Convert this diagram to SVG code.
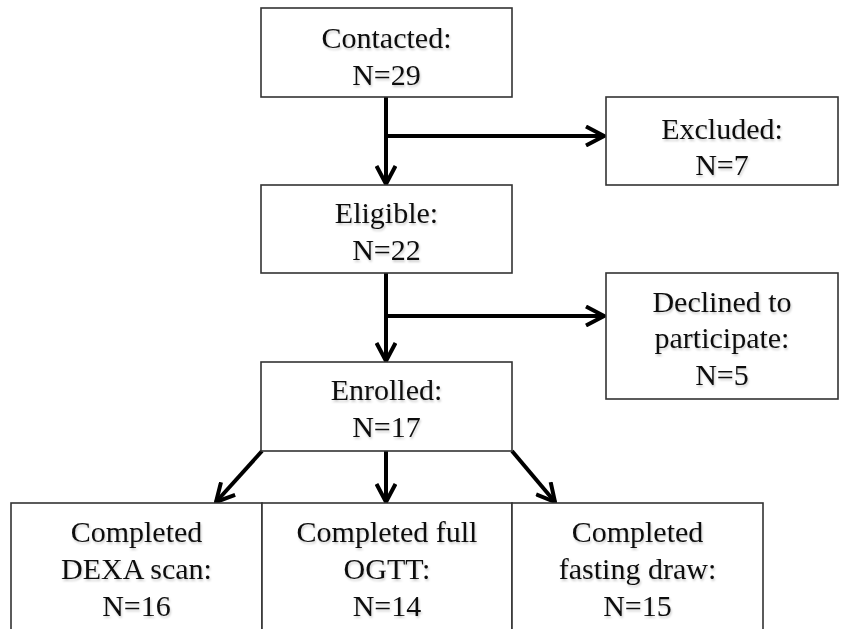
<svg xmlns="http://www.w3.org/2000/svg" width="848" height="629" viewBox="0 0 848 629">
  <defs>
    <style>
      .box { fill: #ffffff; stroke: #333333; stroke-width: 1.6; }
      .lbl { font-family: "Liberation Serif", "Times New Roman", serif; font-size: 30px; fill: #111111; text-anchor: middle; filter: url(#sh); }
      .conn { stroke: #000000; stroke-width: 4; fill: none; }
    </style>
    <filter id="sh" x="-10%" y="-30%" width="120%" height="160%">
      <feDropShadow dx="1" dy="2" stdDeviation="1.2" flood-color="#000000" flood-opacity="0.2"/>
    </filter>
    <marker id="arr" markerUnits="userSpaceOnUse" viewBox="0 0 22 22" refX="20" refY="11" markerWidth="22" markerHeight="22" orient="auto">
      <path d="M2,1.5 L20,11 L2,20.5" fill="none" stroke="#000000" stroke-width="4" stroke-linejoin="miter"/>
    </marker>
  </defs>
  <rect width="848" height="629" fill="#ffffff"/>

  <g id="connectors">
    <line class="conn" x1="386" y1="97" x2="386" y2="184" marker-end="url(#arr)"/>
    <line class="conn" x1="386" y1="136" x2="604" y2="136" marker-end="url(#arr)"/>
    <line class="conn" x1="386" y1="272" x2="386" y2="361" marker-end="url(#arr)"/>
    <line class="conn" x1="386" y1="316" x2="604" y2="316" marker-end="url(#arr)"/>
    <line class="conn" x1="262" y1="451" x2="216" y2="502" marker-end="url(#arr)"/>
    <line class="conn" x1="386" y1="451" x2="386" y2="502" marker-end="url(#arr)"/>
    <line class="conn" x1="512" y1="451" x2="555" y2="502" marker-end="url(#arr)"/>
  </g>

  <g id="contacted">
    <rect class="box" x="261" y="8" width="251" height="89"/>
    <text class="lbl" x="386.5" y="48">Contacted:</text>
    <text class="lbl" x="386.5" y="85">N=29</text>
  </g>

  <g id="excluded">
    <rect class="box" x="606" y="97" width="232" height="88"/>
    <text class="lbl" x="722" y="139">Excluded:</text>
    <text class="lbl" x="722" y="175">N=7</text>
  </g>

  <g id="eligible">
    <rect class="box" x="261" y="185" width="251" height="88"/>
    <text class="lbl" x="386.5" y="223">Eligible:</text>
    <text class="lbl" x="386.5" y="260">N=22</text>
  </g>

  <g id="declined">
    <rect class="box" x="606" y="273" width="232" height="126"/>
    <text class="lbl" x="722" y="312">Declined to</text>
    <text class="lbl" x="722" y="348">participate:</text>
    <text class="lbl" x="722" y="385">N=5</text>
  </g>

  <g id="enrolled">
    <rect class="box" x="261" y="362" width="251" height="89"/>
    <text class="lbl" x="386.5" y="400">Enrolled:</text>
    <text class="lbl" x="386.5" y="437">N=17</text>
  </g>

  <g id="dexa">
    <rect class="box" x="11" y="503" width="251" height="140"/>
    <text class="lbl" x="136.5" y="542">Completed</text>
    <text class="lbl" x="136.5" y="579">DEXA scan:</text>
    <text class="lbl" x="136.5" y="616">N=16</text>
  </g>

  <g id="ogtt">
    <rect class="box" x="262" y="503" width="250" height="140"/>
    <text class="lbl" x="387" y="542">Completed full</text>
    <text class="lbl" x="387" y="579">OGTT:</text>
    <text class="lbl" x="387" y="616">N=14</text>
  </g>

  <g id="fasting">
    <rect class="box" x="512" y="503" width="251" height="140"/>
    <text class="lbl" x="637.5" y="542">Completed</text>
    <text class="lbl" x="637.5" y="579">fasting draw:</text>
    <text class="lbl" x="637.5" y="616">N=15</text>
  </g>
</svg>
